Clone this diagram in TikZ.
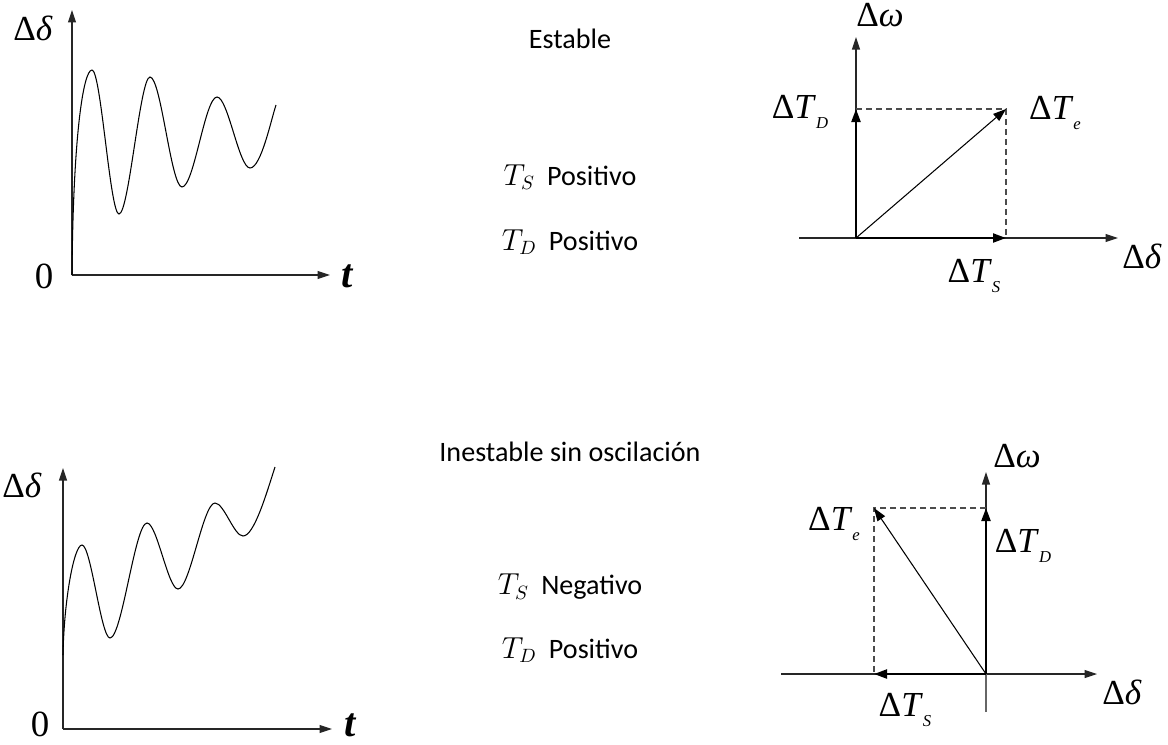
\documentclass[tikz,border=0pt]{standalone}
\usepackage{fontspec}
\setmainfont{Carlito}
\newfontfamily\timesfont{Liberation Serif}
\usetikzlibrary{arrows.meta}
\tikzset{
  axis/.style={draw=black!85,line width=0.6pt,-{Triangle[length=2.5mm,width=1.6mm]}},
  plain/.style={draw=black!60,line width=0.6pt},
  vec/.style={line width=1.2pt,-{Triangle[length=2.6mm,width=1.8mm]}},
  res/.style={line width=0.6pt,-{Triangle[length=2.6mm,width=1.8mm]}},
  proj/.style={draw=black!70,line width=0.6pt,dash pattern=on 1.2mm off 0.8mm},
  curve/.style={line width=0.6pt},
  glab/.style={font=\timesfont\fontsize{20}{24}\selectfont,inner sep=0pt},
  zlab/.style={font=\timesfont\fontsize{21}{25}\selectfont,inner sep=0pt},
  tlab/.style={font=\timesfont\bfseries\itshape\fontsize{23}{27}\selectfont,inner sep=0pt},
  txt/.style={font=\fontsize{16}{19}\selectfont,inner sep=0pt},
}
\newcommand{\dT}[1]{Δ\textit{T}\raisebox{-0.6ex}{\fontsize{9.5}{9.5}\selectfont\textit{#1}}}
\newcommand{\cond}[2]{$T_{#1}$\hspace{7pt}#2}

\begin{document}
\begin{tikzpicture}[x=0.02cm,y=-0.02cm]
  \useasboundingbox (0,0) rectangle (1168,744);
  % stable: time response
  \coordinate (o1) at (72,275);
  \coordinate (y1) at (72,10);
  \coordinate (x1) at (330,275);
  \draw[axis] (o1) -- (y1);
  \draw[axis] (o1) -- (x1);
  \draw[curve] (o1) .. controls (73,140) and (83,70) .. (92,70)
    .. controls (101,70) and (110,214) .. (119,214)
    .. controls (129,214) and (140,77) .. (150,77)
    .. controls (161,77) and (171,187) .. (182,187)
    .. controls (194,187) and (205,97) .. (217,97)
    .. controls (228,97) and (239,168) .. (250,168)
    .. controls (261,168) and (271,120) .. (276,105);
  \node[glab] (dd1) at (33,28) {Δ\textit{δ}};
  \node[zlab] (z1) at (44,276) {0};
  \node[tlab] (t1) at (347,276) {t};
  % stable: conditions
  \node[txt] (st1) at (570,39) {Estable};
  \node[txt] (ts1) at (570,177) {\cond{S}{Positivo}};
  \node[txt] (td1) at (570,242) {\cond{D}{Positivo}};
  % stable: phasors
  \coordinate (o3) at (856,238);
  \coordinate (x3a) at (799,238);
  \coordinate (x3b) at (1118,238);
  \coordinate (y3) at (856,37);
  \coordinate (d3) at (856,109);
  \coordinate (s3) at (1006,238);
  \coordinate (e3) at (1006,109);
  \draw[axis] (x3a) -- (x3b);
  \draw[axis] (o3) -- (y3);
  \draw[proj] (d3) -- (e3) -- (s3);
  \draw[vec] (o3) -- (d3);
  \draw[vec] (o3) -- (s3);
  \draw[res] (o3) -- (e3);
  \node[glab] (w3) at (880,15) {Δ\textit{ω}};
  \node[glab] (td3) at (800,112) {\dT{D}};
  \node[glab] (te3) at (1055,113) {\dT{e}};
  \node[glab] (ts3) at (974,276) {\dT{S}};
  \node[glab] (dd3) at (1142,256) {Δ\textit{δ}};
  % unstable: time response
  \coordinate (o2) at (63,729);
  \coordinate (c2) at (63,655);
  \coordinate (y2) at (63,468);
  \coordinate (x2) at (332,729);
  \draw[axis] (o2) -- (y2);
  \draw[axis] (o2) -- (x2);
  \draw[curve] (c2) .. controls (64,600) and (74,545) .. (82,545)
    .. controls (91,545) and (101,638) .. (110,638)
    .. controls (122,638) and (135,523) .. (147,523)
    .. controls (157,523) and (168,589) .. (178,589)
    .. controls (190,589) and (203,503) .. (215,503)
    .. controls (224,503) and (234,536) .. (243,536)
    .. controls (254,536) and (266,495) .. (275,467);
  \node[glab] (dd2) at (22,485) {Δ\textit{δ}};
  \node[zlab] (z2) at (40,724) {0};
  \node[tlab] (t2) at (350,725) {t};
  % unstable: conditions
  \node[txt] (st2) at (570,452) {Inestable sin oscilación};
  \node[txt] (ts2) at (570,587) {\cond{S}{Negativo}};
  \node[txt] (td2) at (570,650) {\cond{D}{Positivo}};
  % unstable: phasors
  \coordinate (o4) at (986,674);
  \coordinate (x4a) at (781,674);
  \coordinate (x4b) at (1097,674);
  \coordinate (y4a) at (986,712);
  \coordinate (y4b) at (986,472);
  \coordinate (d4) at (986,508);
  \coordinate (s4) at (874,674);
  \coordinate (e4) at (874,508);
  \draw[axis] (x4a) -- (x4b);
  \draw[plain] (y4a) -- (o4);
  \draw[axis] (o4) -- (y4b);
  \draw[proj] (d4) -- (e4) -- (s4);
  \draw[vec] (o4) -- (d4);
  \draw[vec] (o4) -- (s4);
  \draw[res] (o4) -- (e4);
  \node[glab] (w4) at (1017,456) {Δ\textit{ω}};
  \node[glab] (te4) at (834,524) {\dT{e}};
  \node[glab] (td4) at (1023,546) {\dT{D}};
  \node[glab] (ts4) at (905,710) {\dT{S}};
  \node[glab] (dd4) at (1122,692) {Δ\textit{δ}};
\end{tikzpicture}
\end{document}
